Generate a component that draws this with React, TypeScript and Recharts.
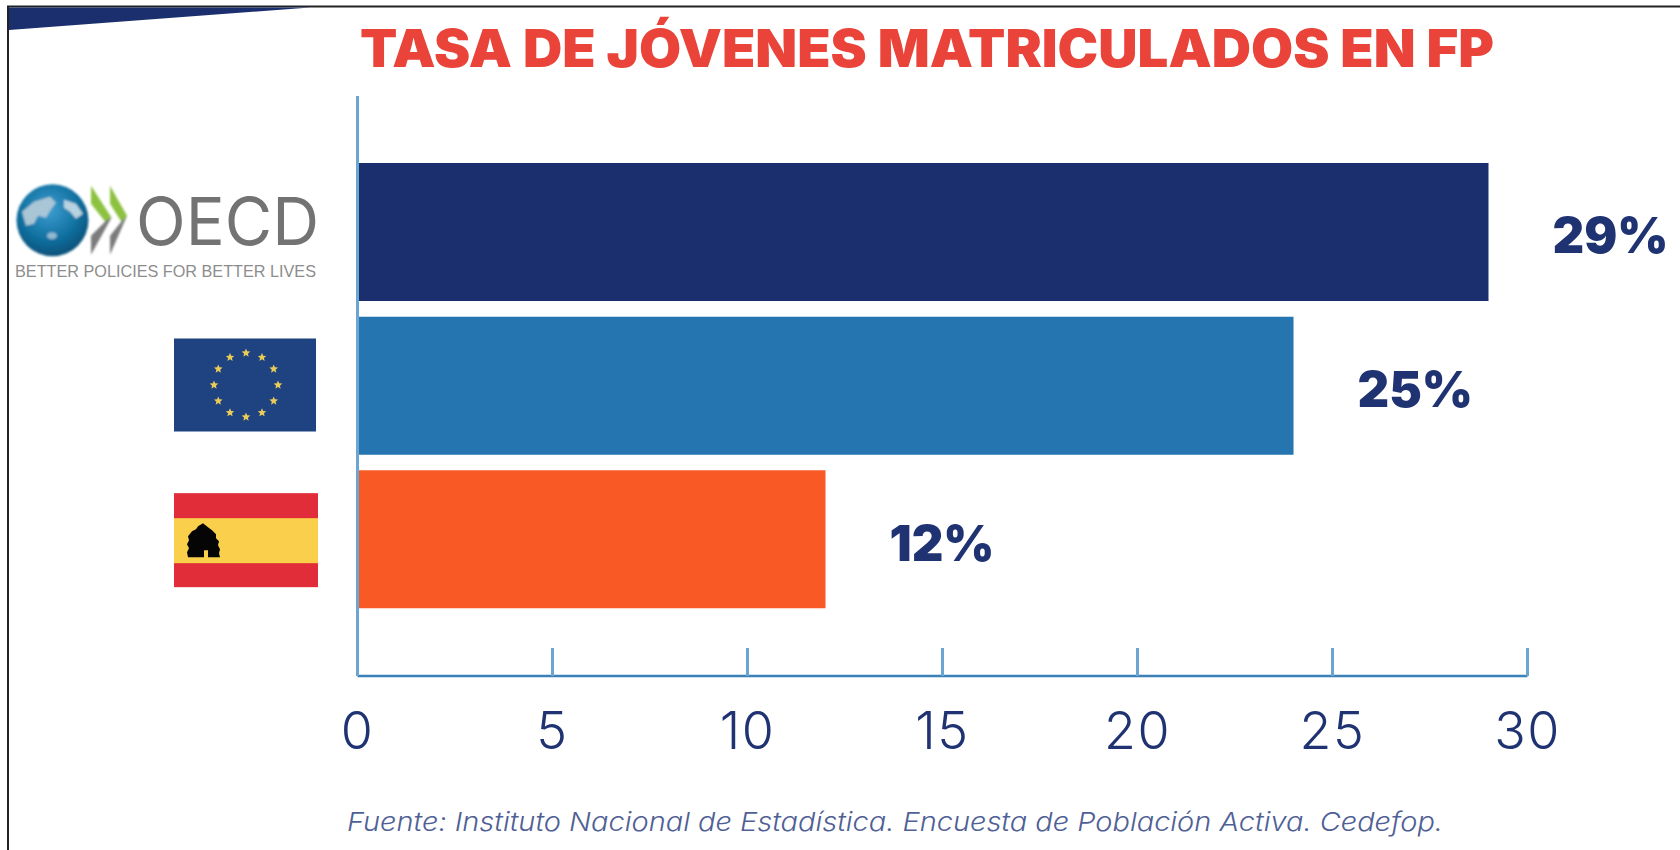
import { Bar, BarChart, Cell, LabelList, XAxis, YAxis } from "recharts"

const categories = ["OCDE", "UE", "España"]
const values = [29, 24, 12]
const valueLabels = ["29%", "25%", "12%"]
const barColors = ["#1b2f6e", "#2575b0", "#f95a25"]
const xTicks = [0, 5, 10, 15, 20, 25, 30]

const chartData = categories.map((name, i) => ({ name, value: values[i], label: valueLabels[i] }))

const NAVY = "#1f3272"
const AXIS_BLUE = "#6ba5d2"

// five pointed star around (cx, cy), for the EU flag
function starPoints(cx: number, cy: number, r: number) {
  const pts: string[] = []
  for (let i = 0; i < 10; i++) {
    const a = (i * Math.PI) / 5
    const rr = i % 2 === 0 ? r : r * 0.45
    pts.push(`${cx + rr * Math.sin(a)},${cy - rr * Math.cos(a)}`)
  }
  return pts.join(" ")
}

function OecdLogo({ y }: { y: number }) {
  return (
    <g transform={`translate(0 ${y - 232})`}>
      <defs>
        <radialGradient id="globe" cx="45%" cy="35%" r="70%">
          <stop offset="0%" stopColor="#3f9fd2" />
          <stop offset="60%" stopColor="#10709f" />
          <stop offset="100%" stopColor="#064a72" />
        </radialGradient>
        <filter id="soft">
          <feGaussianBlur stdDeviation="0.9" />
        </filter>
      </defs>
      <g filter="url(#soft)">
        <circle cx={52.5} cy={220.5} r={36} fill="url(#globe)" />
        <path d="M22 212 L34 202 L50 197 L56 203 L50 211 L46 218 L38 216 L34 224 L26 226 Z" fill="#a9c6d6" />
        <path d="M64 200 L76 204 L83 214 L76 219 L70 212 L64 208 Z" fill="#b7d2e0" />
        <ellipse cx={52} cy={236} rx={5} ry={3.5} fill="#8fb8cf" />
        <path d="M91 186 L111 217 L106 223 L91 204 Z" fill="#8cc23f" />
        <path d="M110 186 L127 216 L122 223 L110 204 Z" fill="#8cc23f" />
        <path d="M91 255 L91 236 L106 221 L112 217 Z" fill="#7c7c7c" />
        <path d="M110 255 L110 236 L122 221 L127 216 Z" fill="#7c7c7c" />
      </g>
      <text x={136} y={245} fontFamily="Inter" fontSize={66} fontWeight={400} fill="#737373" textLength={183} lengthAdjust="spacingAndGlyphs">
        OECD
      </text>
      <text x={15} y={277} fontFamily="Liberation Sans" fontSize={17} fill="#8d8d8d" textLength={301} lengthAdjust="spacingAndGlyphs">
        BETTER POLICIES FOR BETTER LIVES
      </text>
    </g>
  )
}

function EuFlag({ y }: { y: number }) {
  const starIds = Array.from({ length: 12 }, (_, i) => i)
  return (
    <g transform={`translate(0 ${y - 386})`}>
      <rect x={174} y={339} width={142} height={93} fill="#1f4280" />
      {starIds.map((i) => {
        const a = (i * Math.PI) / 6
        return (
          <polygon key={i} points={starPoints(246 + 32 * Math.sin(a), 385.5 - 32 * Math.cos(a), 4.5)} fill="#e8cb58" />
        )
      })}
    </g>
  )
}

function SpainFlag({ y }: { y: number }) {
  return (
    <g transform={`translate(0 ${y - 539})`}>
      <rect x={174} y={493} width={144} height={94} fill="#e12c39" />
      <rect x={174} y={518} width={144} height={45} fill="#f9cf4b" />
      <path
        d="M203 523 L208 527 L212 530 L216 534 L216 538 L219 541 L218 545 L220 549 L219 553 L220 557 L208 557 L208 550 L204 550 L204 557 L188 557 L187 552 L189 548 L187 544 L189 540 L188 536 L192 531 L196 529 L198 526 Z"
        fill="#050505"
      />
    </g>
  )
}

function CategoryMark({ y, payload }: any) {
  if (payload.value === "OCDE") return <OecdLogo y={y} />
  if (payload.value === "UE") return <EuFlag y={y} />
  return <SpainFlag y={y} />
}

export default function App() {
  return (
    <div style={{ position: "absolute", left: 0, top: 0, width: 1680, height: 850, background: "#fff" }}>
      <BarChart
        width={1680}
        height={850}
        data={chartData}
        layout="vertical"
        margin={{ top: 96, right: 152.5, bottom: 0, left: 0 }}
      >
        {/* slide frame and corner wedge */}
        <path d="M8 850 L8 6.5 L1680 6.5" fill="none" stroke="#222" strokeWidth={2} />
        <path d="M9 7.5 L310 7.5 L9 30 Z" fill="#1b2f6e" />
        <text
          x={360}
          y={67}
          fontFamily="Inter"
          fontWeight={900}
          fontSize={52}
          fill="#e9433a"
          textLength={1134}
          lengthAdjust="spacingAndGlyphs"
        >
          TASA DE JÓVENES MATRICULADOS EN FP
        </text>
        <XAxis
          type="number"
          domain={[0, 30]}
          ticks={xTicks}
          interval={0}
          height={174}
          tickSize={-28}
          tickMargin={64}
          axisLine={{ stroke: "#3a80b9", strokeWidth: 2.5 }}
          tickLine={{ stroke: AXIS_BLUE, strokeWidth: 3 }}
          tick={{ fill: NAVY, fontFamily: "Inter", fontWeight: 300, fontSize: 52, letterSpacing: 1.5 }}
        />
        <YAxis
          type="category"
          dataKey="name"
          width={357.5}
          padding={{ top: 59, bottom: 60 }}
          axisLine={{ stroke: AXIS_BLUE, strokeWidth: 3 }}
          tickLine={false}
          tick={CategoryMark}
        />
        <Bar dataKey="value" barSize={138} isAnimationActive={false}>
          {chartData.map((d, i) => (
            <Cell key={d.name} fill={barColors[i]} />
          ))}
          <LabelList
            dataKey="label"
            position="right"
            offset={64}
            dy={4}
            fill={NAVY}
            fontFamily="Inter"
            fontWeight={900}
            fontSize={49}
          />
        </Bar>
        <text x={347} y={831} fontFamily="Inter" fontStyle="italic" fontWeight={300} fontSize={26} fill="#4f6095" textLength={1096} lengthAdjust="spacingAndGlyphs">
          Fuente: Instituto Nacional de Estadística. Encuesta de Población Activa. Cedefop.
        </text>
      </BarChart>
    </div>
  )
}
